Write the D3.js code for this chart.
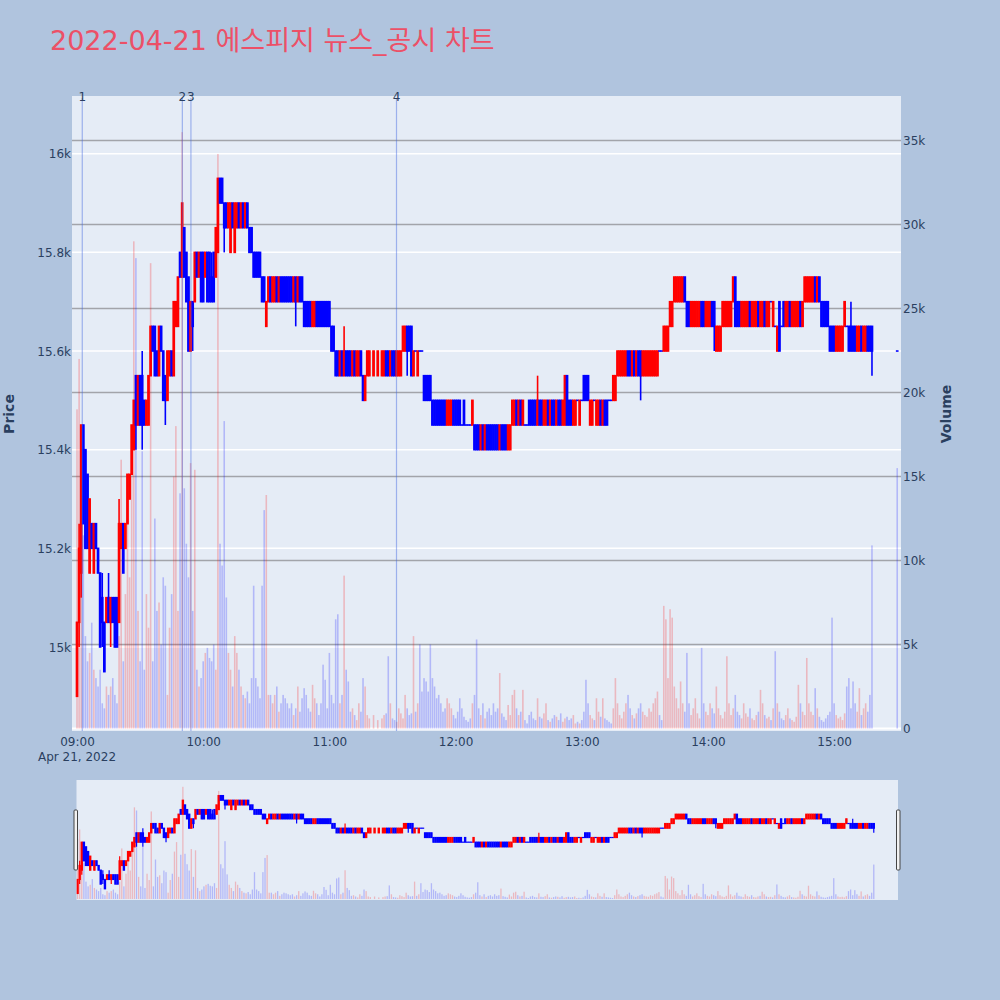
<!DOCTYPE html>
<html><head><meta charset="utf-8">
<script src="https://cdn.jsdelivr.net/npm/d3@7"></script>
<style>body{margin:0;background:#B0C4DE}svg{display:block}</style>
</head><body><svg id="c" width="1000" height="1000"></svg>
<script>
const chartTitle = "2022-04-21 에스피지 뉴스_공시 차트";
// one candle per minute from 09:00 (index = minutes after 09:00); null = no trade
const opens = [
14900,15050,15150,15450,15400,15350,15150,15250,15150,15250,
15200,15150,15100,15050,15050,15100,15050,15100,15100,15100,
15050,15200,15250,15200,15250,15300,15350,15400,15550,15450,
15550,15550,15500,15450,15450,15550,15650,15650,15600,15550,
15650,15600,15550,15500,15550,15600,15550,15650,15650,15800,
15750,15850,15800,15750,15600,15700,15700,15800,15750,15800,
15800,15750,15800,15800,15750,15800,15750,15800,15950,15950,
15900,15900,15850,15800,15900,15800,15850,15900,15850,15900,
15850,15900,15850,15850,15800,15800,15800,15800,15750,15750,
15650,15700,15750,15700,15700,15750,15700,15750,15750,15750,
15750,15750,15750,15700,15750,15700,15750,15750,15700,15700,
15700,15700,15650,15650,15700,15700,15700,15700,15700,15700,
15700,15650,15650,15600,15600,15550,15600,15550,15600,15600,
15600,15550,15600,15550,15550,15600,15550,15500,15550,15550,
null,15550,null,15550,null,15550,15550,15600,15600,15550,
15600,15600,15550,15550,15550,15600,15600,15650,15650,15650,
15550,15600,15550,15600,15600,15550,15550,15550,15550,15500,
15500,15500,15500,15500,15500,15500,15450,15450,15450,15500,
15500,15500,15500,15450,15500,15450,15450,15450,15450,15450,
15450,15450,15400,15450,15400,15450,15450,15450,15450,15450,
15450,15400,15450,15450,15450,15400,15400,15450,15450,15500,
15450,15500,15450,15450,15450,15500,15500,15500,15500,15450,
15500,15500,15450,15450,15500,15450,15500,15500,15450,15500,
15500,15450,15450,15550,15500,15500,15450,15450,15500,15450,
15500,15550,15550,15550,15450,15450,15500,15450,15450,15500,
15450,15500,15500,15500,15500,15500,15500,15550,15550,15550,
15550,15550,15600,15600,15550,15600,15550,15600,15600,15550,
15550,15550,15550,15550,15550,15550,15550,15600,15600,15600,
15600,15600,15650,15650,15700,15700,15700,15700,15700,15750,
15700,15700,15650,15650,15650,15650,15650,15700,15700,15650,
15650,15650,15700,15700,15600,15600,15600,15650,15650,15650,
15650,15650,15700,15750,15700,15700,15650,15650,15650,15650,
15700,15650,15650,15650,15700,15650,15650,15700,15650,15650,
15700,15650,15650,15600,15700,15650,15700,15650,15650,15700,
15650,15650,15650,15650,15700,15650,15700,15700,15700,15700,
15700,15750,15700,15750,15700,15700,15700,15700,15650,15650,
15650,15600,15600,15600,15600,15650,15650,15650,15650,15650,
15650,15600,15600,15650,15600,15600,15650,15650,15650,null,
null,null,null,null,null,null,null,null,null,null,
15600];
const closes = [
15050,15200,15450,15250,15200,15200,15300,15200,15250,15200,
15150,15000,15050,14950,15100,15050,15100,15050,15000,15000,
15250,15250,15150,15250,15350,15350,15450,15500,15450,15550,
15450,15450,15450,15500,15550,15650,15600,15550,15550,15650,
15600,15500,15500,15600,15600,15550,15700,15700,15750,15750,
15900,15750,15700,15600,15700,15650,15800,15750,15800,15700,
15700,15800,15700,15700,15700,15700,15850,15950,15900,15900,
15850,15850,15900,15900,15850,15900,15900,15850,15900,15850,
15900,15850,15800,15800,15750,15750,15750,15750,15700,15700,
15700,15750,15700,15750,15750,15700,15750,15700,15700,15700,
15700,15700,15700,15750,15700,15750,15700,15700,15650,15650,
15650,15650,15700,15700,15650,15650,15650,15650,15650,15650,
15650,15600,15600,15550,15550,15600,15550,15600,15550,15550,
15550,15600,15550,15600,15600,15550,15500,15550,15600,15600,
null,15600,null,15600,null,15600,15600,15550,15550,15600,
15550,15550,15600,15600,15600,15650,15650,15600,15600,15550,
15600,15600,15600,15600,15600,15500,15500,15500,15500,15450,
15450,15450,15450,15450,15450,15450,15500,15500,15500,15450,
15450,15450,15450,15450,15450,15450,15450,15450,15500,15400,
15400,15400,15450,15400,15450,15400,15400,15400,15400,15400,
15400,15450,15400,15400,15400,15450,15450,15500,15500,15450,
15500,15450,15500,15450,15450,15450,15450,15450,15450,15500,
15450,15450,15500,15500,15450,15500,15450,15450,15500,15450,
15450,15500,15550,15450,15450,15450,15500,15500,15500,15500,
15500,15500,15500,15500,15500,15500,15500,15500,15500,15450,
15500,15450,15450,15500,15500,15550,15550,15600,15600,15600,
15600,15600,15550,15550,15600,15550,15600,15550,15550,15600,
15600,15600,15600,15600,15600,15600,15600,15600,15600,15650,
15650,15650,15700,15700,15750,15750,15750,15750,15750,15700,
15650,15650,15700,15700,15700,15700,15700,15650,15650,15700,
15700,15700,15650,15650,15650,15650,15650,15700,15700,15700,
15700,15700,15750,15650,15650,15650,15700,15700,15700,15700,
15650,15700,15700,15700,15650,15700,15700,15650,15700,15700,
15700,15700,15650,15650,15600,15650,15650,15700,15700,15650,
15700,15700,15700,15700,15650,15700,15750,15750,15750,15750,
15750,15700,15750,15700,15650,15650,15650,15650,15600,15600,
15600,15650,15650,15650,15650,15700,15650,15600,15600,15600,
15600,15650,15650,15600,15650,15650,15600,15600,15600,null,
null,null,null,null,null,null,null,null,null,null,
15600];
// candles whose wick reaches beyond the body
const wickMinutes = [1,2,12,15,16,20,28,31,42,55,64,70,104,127,157,219,268,303,368,378];
const wickHighs   = [15250,15450,15150,15150,15100,15300,15550,15600,15550,15700,15800,15900,15750,15650,15650,15550,15600,15700,15700,15650];
const wickLows    = [15000,15100,15000,15050,15000,15050,15400,15400,15450,15600,15700,15800,15650,15550,15550,15450,15500,15600,15600,15550];
const volumes = [
19000,22000,10000,11500,5500,4000,4500,6300,3500,3000,
2500,3500,1500,1200,2500,2000,2500,3000,2000,1500,
5500,16000,4000,8000,12500,9000,15000,29000,28000,7000,
4000,16500,3500,8000,6000,27700,4000,12500,7000,7500,
5000,9000,8500,2000,6000,8000,15000,18000,7000,14000,
35500,14300,11000,9000,15800,7000,15400,3500,2500,3000,
4000,4500,4800,4200,4000,5000,3500,34200,11000,9700,
18300,7800,4500,3500,2500,5500,4500,3500,2500,2000,
1800,2200,1500,3000,8500,3000,2500,1800,8500,13000,
13900,2000,2000,1500,2000,2500,1000,1500,2000,1800,
1500,1200,1500,800,1200,2500,1000,1800,2400,2000,
1200,1000,2600,1800,1500,800,1500,3800,2900,1200,
4500,2000,1500,6500,6800,1500,2000,9100,3500,2800,
1000,1200,800,500,1500,1000,3000,2500,800,600,
null,800,null,500,null,600,800,900,4300,1500,
600,500,400,1200,900,600,2000,1200,800,900,
5500,1000,1500,5000,2200,3000,2800,2200,5000,3000,
2500,1800,2000,1500,1000,1200,1800,1500,1200,800,
600,1000,1800,1200,700,500,400,600,1500,2000,
5300,1200,800,1500,600,1000,1200,800,1500,1000,
1200,3300,900,700,500,1400,800,2000,2300,1200,
800,1000,2300,500,300,800,1000,600,500,1800,
700,600,900,1500,500,400,600,800,700,500,
900,400,600,700,500,600,800,300,400,300,
500,1000,2900,1500,800,600,500,1800,1000,700,
1800,600,500,400,300,1200,3000,1500,800,600,
1000,1500,2000,1200,800,600,900,1200,1500,1000,
800,700,1200,1000,1500,1800,2200,800,500,7300,
6500,3000,7100,6600,2500,1800,1200,2800,1500,1000,
4500,1500,800,1200,1800,900,600,4800,1500,1000,
800,1500,1200,900,2500,1200,800,600,1000,4300,
1500,800,1200,2000,1000,800,600,1500,900,700,
1200,600,500,800,1000,2300,1500,800,600,700,
500,1200,4600,1500,1000,600,500,800,1200,600,
500,400,700,2600,1500,1000,800,4200,1500,1000,
800,2400,1200,700,500,400,600,800,1000,6600,
1500,800,600,700,500,900,2500,3000,1200,2800,
1500,1000,2400,800,1200,1500,1000,2000,10900,null,
null,null,null,null,null,null,null,null,null,null,
15500];
const newsTimes  = ["09:02:30","09:50:05","09:54:10","11:31:55"];
const newsLabels = ["1","2","3","4"];
const priceTicks  = [15000,15200,15400,15600,15800,16000];
const volumeTicks = [0,5000,10000,15000,20000,25000,30000,35000];
const timeTicks   = ["09:00","10:00","11:00","12:00","13:00","14:00","15:00"];

if (opens.length!==closes.length || opens.length!==volumes.length)
  throw new Error("length mismatch "+opens.length+" "+closes.length+" "+volumes.length);

const RED="#ff0000", BLUE="#0000ff", INK="#2a3f5f", FONT="'DejaVu Sans', Verdana, sans-serif";
const svg=d3.select("#c");
const day=new Date(2022,3,21,0,0,0);
const parseT=d3.timeParse("%H:%M:%S"), parseHM=d3.timeParse("%H:%M");
const onDay=d=>new Date(day.getFullYear(),day.getMonth(),day.getDate(),d.getHours(),d.getMinutes(),d.getSeconds());
const start=onDay(parseHM("09:00"));
const times=opens.map((_,i)=>d3.timeMinute.offset(start,i));
const idx=d3.range(opens.length).filter(i=>opens[i]!=null);
const hi={},lo={};
wickMinutes.forEach((m,k)=>{hi[m]=wickHighs[k];lo[m]=wickLows[k];});
const high=i=>hi[i]!=null?hi[i]:Math.max(opens[i],closes[i]);
const low=i=>lo[i]!=null?lo[i]:Math.min(opens[i],closes[i]);
const col=i=>closes[i]>opens[i]?RED:BLUE;

const P={l:72,r:901,t:96,b:731};
const x=d3.scaleTime().domain([d3.timeSecond.offset(start,-143),d3.timeSecond.offset(start,23508)]).range([P.l,P.r]);
const yP=d3.scaleLinear().domain([14829.7,16117]).range([P.b,P.t]);
const yV=d3.scaleLinear().domain([0,37650]).range([728.5,P.t]);

svg.append("text").attr("x",50).attr("y",50).attr("font-family",FONT+",'Noto Sans CJK KR'")
  .attr("font-size",27).attr("fill","rgb(236,80,103)").text(chartTitle);

svg.append("rect").attr("x",P.l).attr("y",P.t).attr("width",P.r-P.l).attr("height",P.b-P.t).attr("fill","#E5ECF6");
svg.append("clipPath").attr("id","pc").append("rect").attr("x",P.l).attr("y",P.t).attr("width",P.r-P.l).attr("height",P.b-P.t);

svg.append("g").selectAll("line").data(volumeTicks.filter(v=>v>0)).join("line")
  .attr("x1",P.l).attr("x2",P.r).attr("y1",d=>yV(d)).attr("y2",d=>yV(d))
  .attr("stroke","#a2a4aa").attr("stroke-width",1.5);
svg.append("g").selectAll("line").data(priceTicks).join("line")
  .attr("x1",P.l).attr("x2",P.r).attr("y1",d=>yP(d)).attr("y2",d=>yP(d))
  .attr("stroke","#ffffff").attr("stroke-width",1.5);
svg.append("line").attr("x1",P.l).attr("x2",P.r).attr("y1",yV(0)).attr("y2",yV(0)).attr("stroke","#ffffff").attr("stroke-width",2);

function drawChart(g,xs,yp,yv,cw,vw,wk){
  const c=g.append("g");
  c.selectAll("line").data(idx).join("line")
    .attr("x1",i=>xs(times[i])).attr("x2",i=>xs(times[i]))
    .attr("y1",i=>yp(high(i))).attr("y2",i=>yp(low(i)))
    .attr("stroke",i=>col(i)).attr("stroke-width",wk);
  c.selectAll("rect").data(idx).join("rect")
    .attr("x",i=>xs(times[i])-cw/2).attr("width",cw)
    .attr("y",i=>yp(Math.max(opens[i],closes[i]))-wk/2)
    .attr("height",i=>Math.abs(yp(opens[i])-yp(closes[i]))+wk)
    .attr("fill",i=>col(i));
  g.append("g").selectAll("rect").data(idx.filter(i=>volumes[i]!=null)).join("rect")
    .attr("x",i=>xs(times[i])-vw/2).attr("width",vw)
    .attr("y",i=>yv(volumes[i])).attr("height",i=>yv(0)-yv(volumes[i]))
    .attr("fill",i=>col(i)).attr("fill-opacity",0.22);
}
drawChart(svg.append("g").attr("clip-path","url(#pc)"),x,yP,yV,2.7,1.6,1.6);

const newsX=newsTimes.map(s=>x(onDay(parseT(s))));
svg.append("g").selectAll("line").data(newsX).join("line")
  .attr("x1",d=>d).attr("x2",d=>d).attr("y1",98).attr("y2",P.b)
  .attr("stroke","rgb(65,105,225)").attr("stroke-opacity",0.45).attr("stroke-width",1.2);
svg.append("g").selectAll("text").data(newsLabels).join("text")
  .attr("x",(d,i)=>newsX[i]).attr("y",101).attr("text-anchor","middle")
  .attr("font-family",FONT).attr("font-size",12).attr("fill",INK).text(d=>d);

const fmtK=v=>v===0?"0":(v/1000)+"k";
const gL=svg.append("g").attr("transform",`translate(${P.l-1},0)`)
  .call(d3.axisLeft(yP).tickValues(priceTicks).tickFormat(fmtK).tickSize(0).tickPadding(0));
const gR=svg.append("g").attr("transform",`translate(${P.r+2},0)`)
  .call(d3.axisRight(yV).tickValues(volumeTicks).tickFormat(fmtK).tickSize(0).tickPadding(0));
const tx=timeTicks.map(s=>onDay(parseHM(s)));
const gB=svg.append("g").attr("transform",`translate(0,${P.b+14.5})`)
  .call(d3.axisBottom(x).tickValues(tx).tickFormat(d3.timeFormat("%H:%M")).tickSize(0).tickPadding(0));
[gL,gR,gB].forEach(g=>{g.select(".domain").remove();
  g.selectAll("text").attr("font-family",FONT).attr("font-size",12).attr("fill",INK);});
gB.selectAll("text").attr("dy",0);
gL.selectAll("text").attr("dy","0.35em");
gR.selectAll("text").attr("dy","0.35em");
svg.append("text").attr("x",x(start)).attr("y",761).attr("text-anchor","middle")
  .attr("font-family",FONT).attr("font-size",12).attr("fill",INK)
  .text(d3.timeFormat("%b %-d, %Y")(start));
svg.append("text").attr("transform","translate(14,414) rotate(-90)").attr("text-anchor","middle")
  .attr("font-family",FONT).attr("font-size",14).attr("font-weight","bold").attr("fill",INK).text("Price");
svg.append("text").attr("transform","translate(951,414) rotate(-90)").attr("text-anchor","middle")
  .attr("font-family",FONT).attr("font-size",14).attr("font-weight","bold").attr("fill",INK).text("Volume");

const S={l:76.5,r:898,t:780,b:900};
svg.append("rect").attr("x",S.l).attr("y",S.t).attr("width",S.r-S.l).attr("height",S.b-S.t).attr("fill","#E5ECF6");
svg.append("clipPath").attr("id","sc").append("rect").attr("x",S.l).attr("y",S.t).attr("width",S.r-S.l).attr("height",S.b-S.t);
const xs=d3.scaleTime().domain([d3.timeSecond.offset(start,-30),d3.timeSecond.offset(start,23370)]).range([S.l,S.r]);
const ysP=d3.scaleLinear().domain([14829.7,16117]).range([S.b,S.t]);
const ysV=d3.scaleLinear().domain([0,37650]).range([S.b-1,S.t]);
drawChart(svg.append("g").attr("clip-path","url(#sc)"),xs,ysP,ysV,2.4,1.3,1.2);
[S.l-1,S.r].forEach(hx=>svg.append("rect").attr("x",hx-1.5).attr("y",810).attr("width",3.5).attr("height",60)
  .attr("fill","#f2f2f2").attr("stroke","#444").attr("stroke-width",1).attr("rx",1));
</script></body></html>
